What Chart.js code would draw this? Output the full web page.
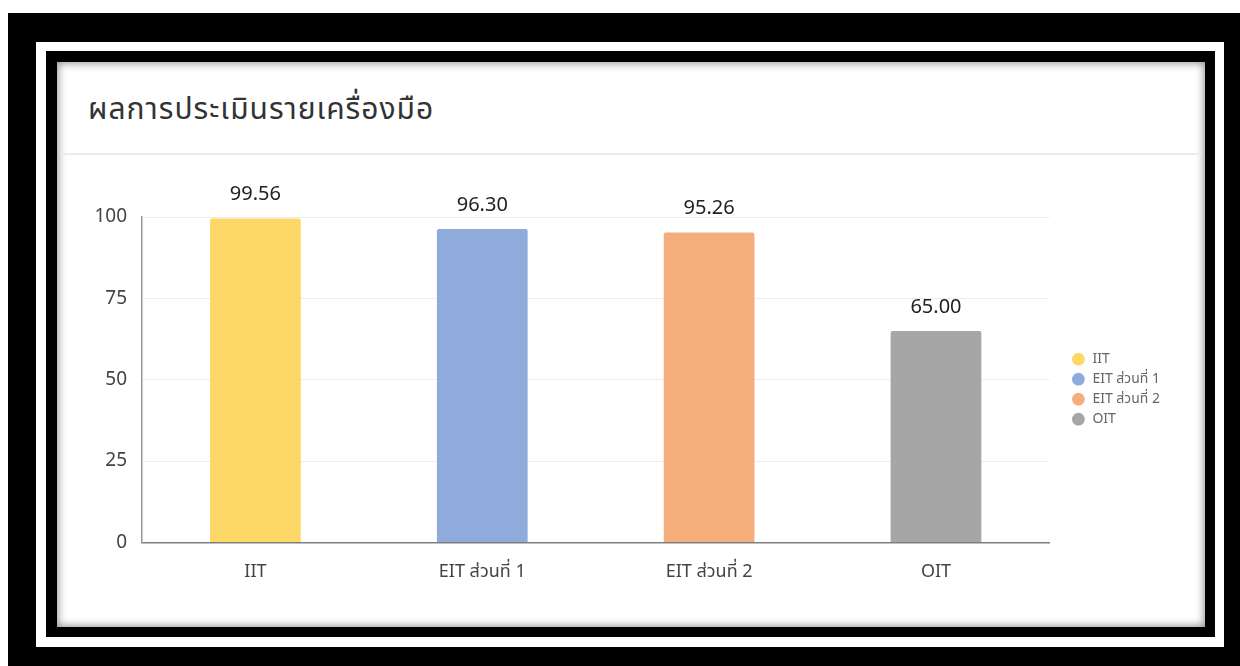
<!DOCTYPE html>
<html>
<head>
<meta charset="utf-8">
<script src="https://cdn.jsdelivr.net/npm/chart.js@4.4.1/dist/chart.umd.min.js"></script>
<style>
  body { margin: 0; background: #fff; width: 1240px; height: 666px; overflow: hidden; position: relative; font-family: "Noto Sans", "Noto Sans Thai", sans-serif; }
  .outer { position: absolute; left: 8px; top: 13px; right: 0; bottom: 0; background: #000; }
  .frame { position: absolute; left: 36px; top: 42px; width: 1188px; height: 605px; background: #fff; }
  .inner { position: absolute; left: 46px; top: 51px; width: 1169px; height: 586px; background: #000; }
  .card { position: absolute; left: 57px; top: 62px; width: 1148px; height: 565px; background: #fff; box-shadow: inset 0 0 9px 1px rgba(0,0,0,0.45); }
  .title { position: absolute; left: 88px; top: 87px; font-size: 30px; letter-spacing: 1px; color: #333; white-space: nowrap; }
  .sep { position: absolute; left: 60px; top: 153px; width: 1142px; height: 2px; background: #ececec; }
  .wrap { position: absolute; left: 70px; top: 170px; width: 1130px; height: 440px; }
</style>
</head>
<body>
<div class="outer"></div>
<div class="frame"></div>
<div class="inner"></div>
<div class="card"></div>
<div class="title">ผลการประเมินรายเครื่องมือ</div>
<div class="sep"></div>
<div class="wrap"><canvas id="chart"></canvas></div>
<script>
// ข้อมูลกราฟ
const categories = ['IIT', 'EIT ส่วนที่ 1', 'EIT ส่วนที่ 2', 'OIT'];
const scores = [99.56, 96.30, 95.26, 65.00];
const barColors = ['#fed867', '#8eabdc', '#f4ae7b', '#a6a6a6'];
const yTicks = [0, 25, 50, 75, 100];

const fontFamily = '"Noto Sans", "Noto Sans Thai", sans-serif';

// วาดตัวเลขบนแท่ง
const valueLabels = {
  id: 'valueLabels',
  afterDatasetsDraw(chart) {
    const ctx = chart.ctx;
    const meta = chart.getDatasetMeta(0);
    ctx.save();
    ctx.font = '20px ' + fontFamily;
    ctx.fillStyle = '#222';
    ctx.textAlign = 'center';
    ctx.textBaseline = 'middle';
    meta.data.forEach((bar, i) => {
      ctx.fillText(scores[i].toFixed(2), bar.x, bar.y - 24);
    });
    ctx.restore();
  }
};

new Chart(document.getElementById('chart'), {
  type: 'bar',
  data: {
    labels: categories,
    datasets: [{
      data: scores,
      backgroundColor: barColors,
      borderRadius: 2,
      borderSkipped: 'bottom',
      categoryPercentage: 1,
      barPercentage: 0.4
    }]
  },
  options: {
    responsive: true,
    maintainAspectRatio: false,
    animation: false,
    layout: { padding: { top: 47, left: 22, bottom: 16, right: 30 } },
    plugins: {
      tooltip: { enabled: false },
      legend: {
        position: 'right',
        fullSize: false,
        title: { display: true, text: ' ', padding: 0, font: { size: 19, lineHeight: 1 } },
        labels: {
          usePointStyle: true,
          pointStyle: 'circle',
          boxWidth: 14,
          boxHeight: 9,
          padding: 6,
          color: '#555',
          font: { family: fontFamily, size: 14 },
          generateLabels: (chart) => categories.map((c, i) => ({
            text: c,
            fillStyle: barColors[i],
            strokeStyle: barColors[i],
            lineWidth: 0,
            pointStyle: 'circle',
            hidden: false,
            index: i
          }))
        }
      }
    },
    scales: {
      x: {
        grid: { display: false },
        border: { display: true, color: '#808080', width: 1.5 },
        ticks: { color: '#444', padding: 11, font: { family: fontFamily, size: 18 } }
      },
      y: {
        min: 0,
        max: 100,
        afterBuildTicks: (s) => { s.ticks = yTicks.map(v => ({ value: v })); },
        grid: { color: '#ececec', drawTicks: false },
        border: { display: true, color: '#999', width: 1.5 },
        ticks: { color: '#444', padding: 15, font: { family: fontFamily, size: 19 } },
        afterFit: (s) => { s.width = 50; }
      },
      gap: {
        type: 'linear',
        position: 'right',
        display: true,
        grid: { display: false },
        border: { display: false },
        ticks: { display: false },
        afterFit: (s) => { s.width = 16; }
      }
    }
  },
  plugins: [valueLabels]
});
</script>
</body>
</html>
